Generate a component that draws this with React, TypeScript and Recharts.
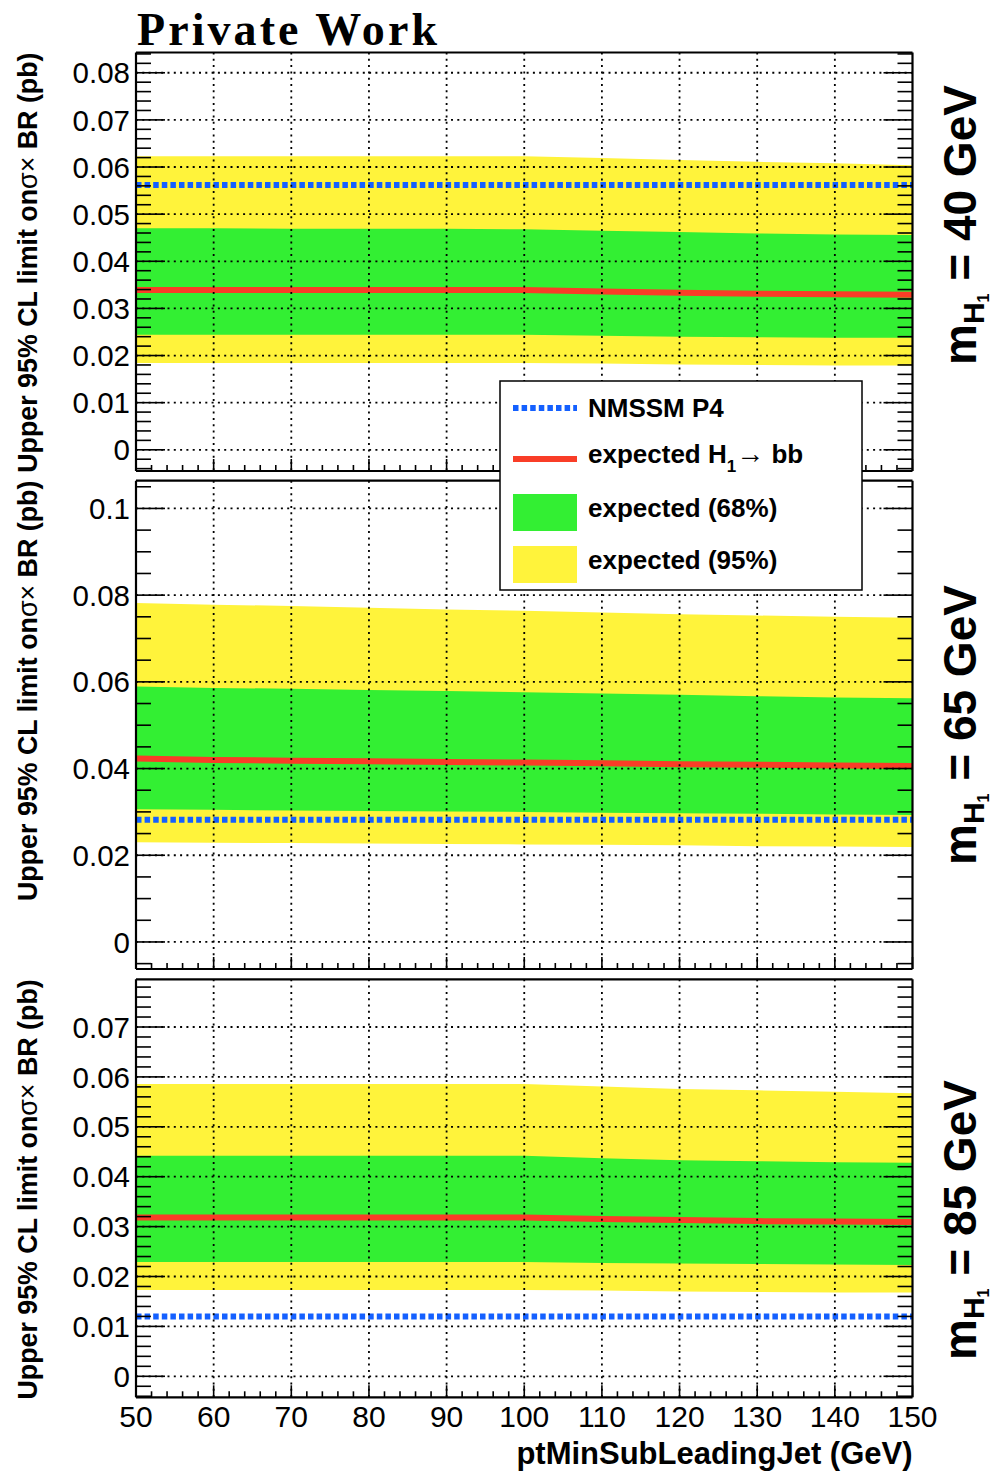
import { Area, CartesianGrid, ComposedChart, Line, ReferenceLine, XAxis, YAxis } from "recharts";

// pt cut on the sub-leading jet (GeV)
const PT_CUT = [50, 60, 70, 80, 90, 100, 110, 120, 130, 140, 150];

// mH1 = 40 GeV
const M40_EXPECTED = [0.0339, 0.0339, 0.0339, 0.0339, 0.0339, 0.0339, 0.0336, 0.0333, 0.0331, 0.033, 0.0329];
const M40_68_LO = [0.0244, 0.0244, 0.0244, 0.0244, 0.0244, 0.0244, 0.0242, 0.024, 0.0239, 0.0238, 0.0238];
const M40_68_HI = [0.047, 0.047, 0.0469, 0.0469, 0.0469, 0.0468, 0.0465, 0.0462, 0.0459, 0.0457, 0.0456];
const M40_95_LO = [0.0184, 0.0184, 0.0184, 0.0184, 0.0184, 0.0184, 0.0183, 0.0181, 0.018, 0.0179, 0.0179];
const M40_95_HI = [0.0623, 0.0623, 0.0623, 0.0623, 0.0623, 0.0623, 0.0619, 0.0615, 0.0611, 0.0608, 0.0604];

// mH1 = 65 GeV
const M65_EXPECTED = [0.0423, 0.042, 0.0418, 0.0417, 0.0415, 0.0414, 0.0412, 0.041, 0.0409, 0.0407, 0.0406];
const M65_68_LO = [0.0306, 0.0305, 0.0303, 0.0302, 0.0301, 0.03, 0.0298, 0.0297, 0.0296, 0.0294, 0.0293];
const M65_68_HI = [0.0589, 0.0586, 0.0584, 0.0581, 0.0579, 0.0576, 0.0573, 0.057, 0.0567, 0.0564, 0.0562];
const M65_95_LO = [0.023, 0.0229, 0.0228, 0.0227, 0.0226, 0.0225, 0.0224, 0.0223, 0.0221, 0.022, 0.0219];
const M65_95_HI = [0.0782, 0.0778, 0.0775, 0.0771, 0.0767, 0.0764, 0.076, 0.0756, 0.0753, 0.075, 0.0748];

// mH1 = 85 GeV
const M85_EXPECTED = [0.0318, 0.0318, 0.0318, 0.0318, 0.0318, 0.0318, 0.0315, 0.0313, 0.0311, 0.031, 0.0309];
const M85_68_LO = [0.0229, 0.0229, 0.0229, 0.0229, 0.0229, 0.0229, 0.0227, 0.0226, 0.0225, 0.0224, 0.0223];
const M85_68_HI = [0.0442, 0.0442, 0.0442, 0.0442, 0.0442, 0.0442, 0.0437, 0.0433, 0.0431, 0.0429, 0.0428];
const M85_95_LO = [0.0173, 0.0173, 0.0173, 0.0173, 0.0173, 0.0173, 0.0172, 0.017, 0.0169, 0.0168, 0.0168];
const M85_95_HI = [0.0586, 0.0586, 0.0586, 0.0586, 0.0586, 0.0586, 0.0581, 0.0576, 0.0573, 0.057, 0.0567];

// NMSSM P4 cross section x BR for each mass point
const NMSSM_P4 = [0.0562, 0.0282, 0.012];
const MASS_LABELS = ["40", "65", "85"];

const X_MAJOR = [50, 60, 70, 80, 90, 100, 110, 120, 130, 140, 150];
const X_GRID = [60, 70, 80, 90, 100, 110, 120, 130, 140];
const Y_MAJOR_40 = [0, 0.01, 0.02, 0.03, 0.04, 0.05, 0.06, 0.07, 0.08];
const Y_MAJOR_65 = [0, 0.02, 0.04, 0.06, 0.08, 0.1];
const Y_MAJOR_85 = [0, 0.01, 0.02, 0.03, 0.04, 0.05, 0.06, 0.07];

const YELLOW = "#fff33b";
const GREEN = "#33ef33";
const RED = "#f93d27";
const BLUE = "#1460ff";
const SANS = '"Liberation Sans", Arial, Helvetica, sans-serif';

const W = 996;
const H = 1472;
const PLOT_LEFT = 136;
const PLOT_RIGHT = 912.5;
const Y_AXIS_W = 70;

function steps(from: number, to: number, step: number): number[] {
  const out: number[] = [];
  const n = Math.round((to - from) / step);
  for (let i = 0; i <= n; i++) out.push(Math.round((from + i * step) * 1e6) / 1e6);
  return out;
}

function buildRows(exp: number[], lo68: number[], hi68: number[], lo95: number[], hi95: number[]) {
  return PT_CUT.map((x, i) => ({
    x,
    expected: exp[i],
    band68: [lo68[i], hi68[i]],
    band95: [lo95[i], hi95[i]],
  }));
}

const PANELS = [
  {
    rows: buildRows(M40_EXPECTED, M40_68_LO, M40_68_HI, M40_95_LO, M40_95_HI),
    majors: Y_MAJOR_40,
    minors: steps(-0.004, 0.084, 0.002),
    domain: [-0.0045, 0.0843],
    top: 0,
    height: 480,
    plotTop: 52.5,
    plotBottom: 471,
    massLabelY: 365,
  },
  {
    rows: buildRows(M65_EXPECTED, M65_68_LO, M65_68_HI, M65_95_LO, M65_95_HI),
    majors: Y_MAJOR_65,
    minors: steps(-0.005, 0.105, 0.005),
    domain: [-0.00624, 0.1064],
    top: 476,
    height: 500,
    plotTop: 480.7,
    plotBottom: 969,
    massLabelY: 865,
  },
  {
    rows: buildRows(M85_EXPECTED, M85_68_LO, M85_68_HI, M85_95_LO, M85_95_HI),
    majors: Y_MAJOR_85,
    minors: steps(-0.004, 0.078, 0.002),
    domain: [-0.00421, 0.07956],
    top: 975,
    height: 497,
    plotTop: 979.3,
    plotBottom: 1397.3,
    massLabelY: 1360,
  },
];

const X_ALL = steps(50, 150, 2);

function fmtY(v: number): string {
  return v === 0 ? "0" : String(+v.toFixed(3));
}

// ROOT style frame tick: inward tick line, label only on majors when asked
function FrameTick(props: any) {
  const { x, y, payload, side, majors, majorLen, minorLen, gap, showLabel, fontSize } = props;
  const value = payload.value;
  const isMajor = majors.some((m: number) => Math.abs(m - value) < 1e-9);
  const len = isMajor ? majorLen : minorLen;
  const stroke = { stroke: "#000", strokeWidth: 1.6 };
  let tick = null;
  let label = null;
  if (side === "left") {
    tick = <line x1={x + gap} x2={x + gap + len} y1={y} y2={y} {...stroke} />;
    if (showLabel && isMajor)
      label = (
        <text x={x} y={y} dy="0.36em" textAnchor="end" fontSize={fontSize} fontFamily={SANS} fill="#000">
          {fmtY(value)}
        </text>
      );
  } else if (side === "right") {
    tick = <line x1={x} x2={x - len} y1={y} y2={y} {...stroke} />;
  } else if (side === "top") {
    tick = <line x1={x} x2={x} y1={y} y2={y + len} {...stroke} />;
  } else {
    tick = <line x1={x} x2={x} y1={y - gap} y2={y - gap - len} {...stroke} />;
    if (showLabel && isMajor)
      label = (
        <text x={x} y={y} dy="0.71em" textAnchor="middle" fontSize={fontSize} fontFamily={SANS} fill="#000">
          {value}
        </text>
      );
  }
  return (
    <g>
      {tick}
      {label}
    </g>
  );
}

function LimitPanel({ panel, nmssm, showX }: { panel: (typeof PANELS)[number]; nmssm: number; showX: boolean }) {
  const axisH = showX ? 40 : 1;
  const margin = {
    top: panel.plotTop - panel.top,
    bottom: panel.top + panel.height - panel.plotBottom - axisH,
    left: PLOT_LEFT - Y_AXIS_W,
    right: W - PLOT_RIGHT,
  };
  const yTicks = Array.from(new Set([...panel.minors, ...panel.majors])).sort((a, b) => a - b);
  const frameLine = { stroke: "#000", strokeWidth: 2.2 };
  return (
    <div style={{ position: "absolute", left: 0, top: panel.top }}>
      <ComposedChart width={W} height={panel.height} data={panel.rows} margin={margin}>
        <XAxis
          xAxisId="bottom"
          dataKey="x"
          type="number"
          domain={[50, 150]}
          allowDataOverflow
          ticks={X_ALL}
          interval={0}
          height={axisH}
          tickSize={0}
          tickMargin={8}
          tickLine={false}
          axisLine={frameLine}
          tick={<FrameTick side="bottom" majors={X_MAJOR} majorLen={12} minorLen={6} gap={8} showLabel={showX} fontSize={30} />}
        />
        <XAxis
          xAxisId="top"
          orientation="top"
          mirror
          type="number"
          domain={[50, 150]}
          allowDataOverflow
          ticks={X_ALL}
          interval={0}
          height={1}
          tickSize={0}
          tickMargin={0}
          tickLine={false}
          axisLine={frameLine}
          tick={<FrameTick side="top" majors={X_MAJOR} majorLen={12} minorLen={6} gap={0} />}
        />
        <YAxis
          yAxisId="left"
          type="number"
          domain={panel.domain}
          allowDataOverflow
          ticks={yTicks}
          interval={0}
          width={Y_AXIS_W}
          tickSize={0}
          tickMargin={6}
          tickLine={false}
          axisLine={frameLine}
          tick={<FrameTick side="left" majors={panel.majors} majorLen={29} minorLen={15} gap={6} showLabel fontSize={29.5} />}
        />
        <YAxis
          yAxisId="right"
          orientation="right"
          mirror
          type="number"
          domain={panel.domain}
          allowDataOverflow
          ticks={yTicks}
          interval={0}
          width={1}
          tickSize={0}
          tickMargin={0}
          tickLine={false}
          axisLine={frameLine}
          tick={<FrameTick side="right" majors={panel.majors} majorLen={29} minorLen={15} gap={0} />}
        />
        <Area
          xAxisId="bottom"
          yAxisId="left"
          type="linear"
          dataKey="band95"
          fill={YELLOW}
          fillOpacity={1}
          stroke="none"
          isAnimationActive={false}
        />
        <Area
          xAxisId="bottom"
          yAxisId="left"
          type="linear"
          dataKey="band68"
          fill={GREEN}
          fillOpacity={1}
          stroke="none"
          isAnimationActive={false}
        />
        <CartesianGrid
          xAxisId="bottom"
          yAxisId="left"
          horizontalValues={panel.majors}
          verticalValues={X_GRID}
          stroke="#000"
          strokeWidth={1.8}
          strokeDasharray="2 4.3"
          fill="none"
          zIndex={450}
        />
        <Line
          xAxisId="bottom"
          yAxisId="left"
          type="linear"
          dataKey="expected"
          stroke={RED}
          strokeWidth={6}
          dot={false}
          activeDot={false}
          isAnimationActive={false}
        />
        <ReferenceLine
          xAxisId="bottom"
          yAxisId="left"
          y={nmssm}
          stroke={BLUE}
          strokeWidth={6}
          strokeDasharray="5.5 3.1"
        />
      </ComposedChart>
    </div>
  );
}

const Y_TITLE = "Upper 95% CL limit on";
const X_TITLE = "ptMinSubLeadingJet (GeV)";

function Overlay() {
  return (
    <svg width={W} height={H} style={{ position: "absolute", left: 0, top: 0, pointerEvents: "none" }}>
      <text x={137} y={45} fontSize={46} fontWeight="bold" fontFamily='"Liberation Serif", "DejaVu Serif", serif' textLength={300} lengthAdjust="spacing">
        Private Work
      </text>
      {PANELS.map((p, i) => (
        <g key={`t${i}`}>
          <text
            transform={`translate(37, ${p.plotTop}) rotate(-90)`}
            textAnchor="end"
            fontSize={26.8}
            fontWeight="bold"
            fontFamily={SANS}
          >
            {Y_TITLE}
            <tspan fontWeight="normal">σ× </tspan>
            BR (pb)
          </text>
          <text transform={`translate(976, ${p.massLabelY}) rotate(-90)`} fontSize={46} fontWeight="bold" fontFamily={SANS}>
            m
            <tspan fontSize={30} dy={8}>H</tspan>
            <tspan fontSize={16} dy={5}>1</tspan>
            <tspan fontSize={46} dy={-13}>{` = ${MASS_LABELS[i]} GeV`}</tspan>
          </text>
        </g>
      ))}
      <text x={PLOT_RIGHT} y={1464} textAnchor="end" fontSize={31} fontWeight="bold" fontFamily={SANS}>
        {X_TITLE}
      </text>

      {/* legend */}
      <rect x={500} y={381} width={362} height={209} fill="#fff" stroke="#000" strokeWidth={1.5} />
      <line x1={513} x2={577} y1={408} y2={408} stroke={BLUE} strokeWidth={6} strokeDasharray="5.5 3.1" />
      <line x1={513} x2={577} y1={459} y2={459} stroke={RED} strokeWidth={6} />
      <rect x={513} y={494} width={64} height={37} fill={GREEN} />
      <rect x={513} y={546} width={64} height={37} fill={YELLOW} />
      <g fontSize={26} fontWeight="bold" fontFamily={SANS}>
        <text x={588} y={417}>NMSSM P4</text>
        <text x={588} y={463}>
          expected H
          <tspan fontSize={17} dy={9}>1</tspan>
          <tspan fontWeight="normal" fontSize={28} dy={-9}>→</tspan> bb
        </text>
        <text x={588} y={517}>expected (68%)</text>
        <text x={588} y={569}>expected (95%)</text>
      </g>
    </svg>
  );
}

export default function App() {
  return (
    <div style={{ position: "absolute", left: 0, top: 0, width: W, height: H, background: "#fff", overflow: "hidden" }}>
      {PANELS.map((p, i) => (
        <LimitPanel key={i} panel={p} nmssm={NMSSM_P4[i]} showX={i === PANELS.length - 1} />
      ))}
      <Overlay />
    </div>
  );
}
